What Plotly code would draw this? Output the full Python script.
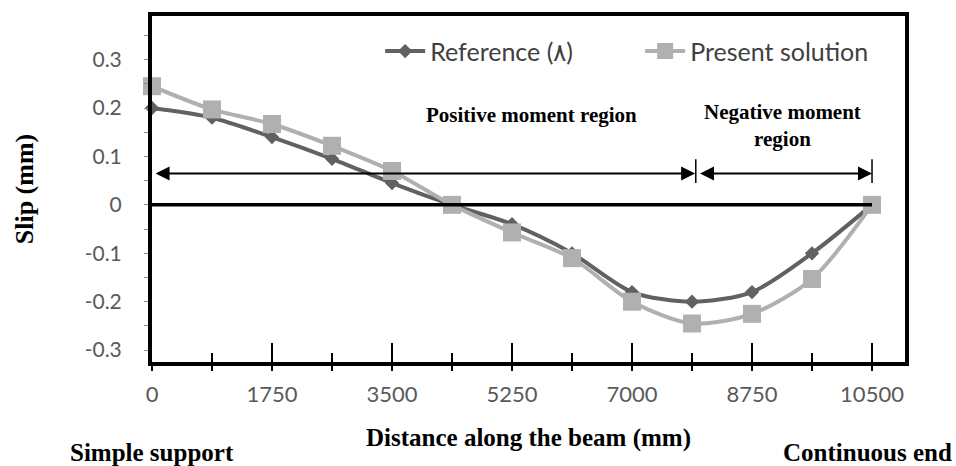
import plotly.graph_objects as go

# ---------------- data ----------------
distance_mm = [0, 875, 1750, 2625, 3500, 4375, 5250, 6125, 7000, 7875, 8750, 9625, 10500]
slip_reference = [0.20, 0.18, 0.14, 0.095, 0.045, 0.0, -0.04, -0.10, -0.18, -0.20, -0.18, -0.10, 0.0]
slip_present = [0.245, 0.197, 0.167, 0.122, 0.070, 0.0, -0.057, -0.11, -0.20, -0.245, -0.225, -0.153, 0.0]

x_tick_vals = [0, 1750, 3500, 5250, 7000, 8750, 10500]
x_tick_text = ["0", "1750", "3500", "5250", "7000", "8750", "10500"]
y_tick_vals = [-0.3, -0.2, -0.1, 0, 0.1, 0.2, 0.3]
y_tick_text = ["-0.3", "-0.2", "-0.1", "0", "0.1", "0.2", "0.3"]

series_names = ["Reference (\u0668)", "Present solution"]
region_boundary_mm = 7930   # boundary between positive and negative moment regions
arrow_level = 0.065

# ---------------- style ----------------
X_RANGE = [0, 10981]
Y_RANGE = [-0.3245, 0.39]
SERIF = "Liberation Serif, Times New Roman, serif"
SANS = "Lato, Carlito, Calibri, sans-serif"
TICK_GREY = "#595959"

fig = go.Figure()

fig.add_trace(go.Scatter(
    x=distance_mm, y=slip_reference, name=series_names[0],
    mode="lines+markers", line=dict(color="#616161", width=4, shape="spline", smoothing=0.8),
    marker=dict(symbol="diamond", size=11, color="#616161"), cliponaxis=False,
))
fig.add_trace(go.Scatter(
    x=distance_mm, y=slip_present, name=series_names[1],
    mode="lines+markers", line=dict(color="#b0b0b0", width=4, shape="spline", smoothing=0.8),
    marker=dict(symbol="square", size=18, color="#b0b0b0"), cliponaxis=False,
))
# invisible trace so that the overlaid labelled axis exists
fig.add_trace(go.Scatter(
    x=[distance_mm[0]], y=[0], xaxis="x2", mode="markers",
    marker=dict(opacity=0), showlegend=False, hoverinfo="skip",
))

fig.update_layout(
    width=956, height=466,
    margin=dict(l=152, r=51, t=12, b=104),
    paper_bgcolor="white", plot_bgcolor="white",
    showlegend=True,
    legend=dict(
        orientation="h", x=0.303, y=0.898, xanchor="left", yanchor="middle",
        font=dict(family=SANS, size=25, color="#404040"),
        bgcolor="rgba(0,0,0,0)", entrywidth=205, itemwidth=40,
    ),
    xaxis=dict(
        range=X_RANGE, showgrid=False, zeroline=False,
        showline=True, linewidth=4, linecolor="black", mirror=True,
        tickvals=x_tick_vals, showticklabels=False,
        ticks="inside", ticklen=19, tickwidth=2, tickcolor="black",
        minor=dict(tick0=875, dtick=1750, ticks="inside", ticklen=9, tickwidth=2, tickcolor="black"),
    ),
    xaxis2=dict(
        range=X_RANGE, overlaying="x", anchor="y", side="bottom",
        showgrid=False, zeroline=False, showline=False,
        tickvals=x_tick_vals, ticktext=x_tick_text,
        ticks="outside", ticklen=8, tickwidth=2, tickcolor="black",
        minor=dict(tick0=875, dtick=1750, ticks="outside", ticklen=8, tickwidth=2, tickcolor="black"),
        tickfont=dict(family=SANS, size=22, color=TICK_GREY),
        ticklabelstandoff=5,
        title=dict(text="Distance along the beam (mm)", standoff=22,
                   font=dict(family=SERIF, size=25, color="black", weight="bold")),
    ),
    yaxis=dict(
        range=Y_RANGE, showgrid=False, zeroline=False,
        showline=True, linewidth=4, linecolor="black", mirror=True,
        tickvals=y_tick_vals, ticktext=y_tick_text,
        ticks="outside", ticklen=4, tickwidth=1, tickcolor="#8c8c8c",
        minor=dict(dtick=0.05, tick0=0, ticks="outside", ticklen=4, tickwidth=1, tickcolor="#8c8c8c"),
        tickfont=dict(family=SANS, size=21, color=TICK_GREY),
        ticklabelstandoff=18,
        title=dict(text="Slip (mm)", standoff=45,
                   font=dict(family=SERIF, size=26, color="black", weight="bold")),
    ),
)

# zero line
fig.add_shape(type="line", xref="x", yref="y", x0=X_RANGE[0], x1=distance_mm[-1], y0=0, y1=0,
              line=dict(color="black", width=3.5))
# region end marks
for xv in [region_boundary_mm, distance_mm[-1]]:
    fig.add_shape(type="line", xref="x", yref="y", x0=xv, x1=xv, y0=0.045, y1=0.094,
                  line=dict(color="black", width=1.5))

# double-headed arrows
for (xa, xb) in [(30, region_boundary_mm - 10), (region_boundary_mm + 40, distance_mm[-1])]:
    fig.add_annotation(x=xb, y=arrow_level, ax=xa, ay=arrow_level, xref="x", yref="y",
                       axref="x", ayref="y", text="", showarrow=True,
                       arrowside="end+start", arrowhead=2, startarrowhead=2,
                       arrowsize=1.4, startarrowsize=1.4, arrowwidth=2, arrowcolor="black",
                       standoff=0, startstandoff=0)

fig.add_annotation(x=5540, y=0.186, xref="x", yref="y", text="Positive moment region",
                   showarrow=False, font=dict(family=SERIF, size=21, color="black", weight="bold"))
fig.add_annotation(x=9200, y=0.163, xref="x", yref="y", text="Negative moment<br>region",
                   showarrow=False, font=dict(family=SERIF, size=21, color="black", weight="bold"))

fig.add_annotation(x=0, y=-0.305, xref="x", yref="paper", text="Simple support",
                   showarrow=False, font=dict(family=SERIF, size=25, color="black", weight="bold"))
fig.add_annotation(x=1.065, y=-0.305, xref="paper", yref="paper", xanchor="right",
                   text="Continuous end", showarrow=False,
                   font=dict(family=SERIF, size=25, color="black", weight="bold"))

fig.write_html("out.html")
